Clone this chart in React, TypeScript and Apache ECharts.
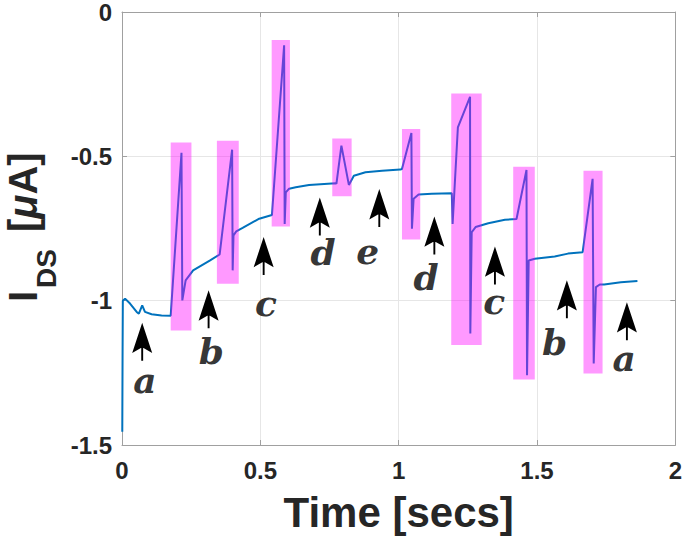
import React, { useEffect, useRef } from "react";
import * as echarts from "echarts";

// Axis ticks
const xTicks = [0, 0.5, 1, 1.5, 2];
const yTicks = [-1.5, -1, -0.5, 0];

// Measured trace: time [s] and I_DS [uA]
const timeSecs = [
  0.001, 0.002, 0.003, 0.011, 0.029, 0.053, 0.061, 0.073, 0.083, 0.107, 0.143, 0.176,
  0.215, 0.218, 0.23, 0.257, 0.317, 0.353,
  0.398, 0.4, 0.403, 0.413, 0.436, 0.496, 0.542,
  0.586, 0.588, 0.592, 0.604, 0.628, 0.676, 0.772,
  0.775, 0.793, 0.82, 0.838, 0.88, 0.94, 1.006,
  1.012, 1.046, 1.048, 1.054, 1.072, 1.12, 1.192,
  1.195, 1.214, 1.258, 1.259, 1.264, 1.278, 1.324, 1.384, 1.426,
  1.462, 1.464, 1.47, 1.492, 1.564, 1.612, 1.665,
  1.701, 1.705, 1.713, 1.727, 1.743, 1.803, 1.863,
];
const currentUA = [
  -1.454, -1.2, -1.0, -0.993, -1.01, -1.039, -1.045, -1.016, -1.039, -1.047, -1.051, -1.052,
  -0.488, -0.999, -0.93, -0.895, -0.861, -0.84,
  -0.477, -0.895, -0.774, -0.76, -0.748, -0.716, -0.703,
  -0.115, -0.734, -0.625, -0.612, -0.607, -0.599, -0.593,
  -0.595, -0.463, -0.599, -0.567, -0.555, -0.55, -0.546,
  -0.544, -0.419, -0.751, -0.647, -0.632, -0.63, -0.628,
  -0.734, -0.4, -0.294, -1.114, -0.763, -0.745, -0.732, -0.72, -0.717,
  -0.547, -1.258, -0.861, -0.855, -0.847, -0.837, -0.832,
  -0.578, -1.218, -0.953, -0.944, -0.944, -0.936, -0.932,
];

// Highlight boxes
const boxStart = [0.176, 0.343, 0.541, 0.76, 1.012, 1.19, 1.414, 1.668];
const boxEnd = [0.251, 0.422, 0.607, 0.83, 1.078, 1.3, 1.492, 1.737];
const boxTop = [-0.452, -0.446, -0.097, -0.438, -0.405, -0.282, -0.536, -0.55];
const boxBottom = [-1.103, -0.941, -0.743, -0.638, -0.788, -1.154, -1.273, -1.252];

// Arrow annotations
const arrowT = [0.073, 0.313, 0.512, 0.715, 0.93, 1.129, 1.348, 1.608, 1.825];
const arrowI = [-1.142, -1.03, -0.845, -0.708, -0.679, -0.774, -0.878, -0.995, -1.071];
const letterText = ["a", "b", "c", "d", "e", "d", "c", "b", "a"];
const letterT = [0.083, 0.323, 0.52, 0.727, 0.888, 1.099, 1.345, 1.564, 1.815];
const letterI = [-1.274, -1.175, -1.008, -0.832, -0.828, -0.918, -1.001, -1.143, -1.2];

const AXIS_COLOR = "#a0a0a0";
const TEXT_COLOR = "#262626";
const ARROW_PATH =
  "path://M10.5,0 L21,32 L10.5,26 L0,32 Z M9.5,26 L11.5,26 L11.5,40 L9.5,40 Z";

export default function App() {
  const ref = useRef<HTMLDivElement>(null);

  useEffect(() => {
    if (!ref.current) return;
    const chart = echarts.init(ref.current, undefined, { renderer: "svg" });

    const lineData = timeSecs.map((t, i) => [t, currentUA[i]]);
    const boxData = boxStart.map((s, i) => [s, boxEnd[i], boxTop[i], boxBottom[i]]);
    const arrowData = arrowT.map((t, i) => [t, arrowI[i]]);
    const letterData = letterT.map((t, i) => ({ value: [t, letterI[i]], name: letterText[i] }));

    const tickLabelStyle = {
      color: TEXT_COLOR,
      fontFamily: "Liberation Sans",
      fontWeight: "bold" as const,
      fontSize: 24,
    };

    const baseX = {
      type: "value" as const,
      min: xTicks[0],
      max: xTicks[xTicks.length - 1],
      interval: 0.5,
      axisLine: { show: true, onZero: false, lineStyle: { color: AXIS_COLOR, width: 1 } },
      axisTick: { show: true, inside: true, length: 5, lineStyle: { color: AXIS_COLOR } },
    };
    const baseY = {
      type: "value" as const,
      min: yTicks[0],
      max: yTicks[yTicks.length - 1],
      interval: 0.5,
      axisLine: { show: true, onZero: false, lineStyle: { color: AXIS_COLOR, width: 1 } },
      axisTick: { show: true, inside: true, length: 5, lineStyle: { color: AXIS_COLOR } },
    };

    chart.setOption({
      animation: false,
      grid: { left: 122, right: 8, top: 11, bottom: 94, containLabel: false },
      xAxis: [
        {
          ...baseX,
          position: "bottom",
          axisLabel: { ...tickLabelStyle, margin: 13 },
          splitLine: { show: true, lineStyle: { color: "#e6e6e6", width: 1 } },
          name: "Time [secs]",
          nameLocation: "middle",
          nameGap: 46,
          nameTextStyle: {
            color: TEXT_COLOR,
            fontFamily: "Liberation Sans",
            fontWeight: "bold",
            fontSize: 42,
          },
        },
        {
          ...baseX,
          position: "top",
          axisLabel: { show: false },
          splitLine: { show: false },
        },
      ],
      yAxis: [
        {
          ...baseY,
          position: "left",
          axisLabel: { ...tickLabelStyle, margin: 10 },
          splitLine: { show: true, lineStyle: { color: "#e6e6e6", width: 1 } },
        },
        {
          ...baseY,
          position: "right",
          axisLabel: { show: false },
          splitLine: { show: false },
        },
      ],
      series: [
        {
          type: "line",
          data: lineData,
          showSymbol: false,
          symbol: "none",
          z: 2,
          lineStyle: { color: "#0072BD", width: 2 },
          silent: true,
        },
        {
          type: "custom",
          z: 3,
          silent: true,
          data: boxData,
          encode: { x: [0, 1], y: [2, 3] },
          renderItem: (params: any, api: any) => {
            const p0 = api.coord([api.value(0), api.value(2)]);
            const p1 = api.coord([api.value(1), api.value(3)]);
            return {
              type: "rect",
              shape: { x: p0[0], y: p0[1], width: p1[0] - p0[0], height: p1[1] - p0[1] },
              style: { fill: "rgba(255,0,255,0.4)" },
            };
          },
        },
        {
          type: "scatter",
          z: 4,
          silent: true,
          data: arrowData,
          symbol: ARROW_PATH,
          symbolSize: [20, 38],
          itemStyle: { color: "#000", opacity: 1 },
        },
        {
          type: "scatter",
          z: 5,
          silent: true,
          data: letterData,
          symbolSize: 1,
          itemStyle: { color: "transparent" },
          label: {
            show: true,
            position: "inside",
            formatter: "{b}",
            color: "#000",
            fontFamily: "DejaVu Serif",
            fontStyle: "italic",
            fontWeight: "bold",
            fontSize: 36,
          },
        },
      ],
      graphic: [
        {
          type: "group",
          x: 0,
          y: 302,
          rotation: Math.PI / 2,
          children: [
            {
              type: "text",
              x: 0,
              y: 23,
              style: {
                text: "I",
                fill: TEXT_COLOR,
                fontFamily: "Liberation Sans",
                fontWeight: "bold",
                fontSize: 40,
                align: "left",
                verticalAlign: "middle",
              },
            },
            {
              type: "text",
              x: 14,
              y: 46,
              style: {
                text: "DS",
                fill: TEXT_COLOR,
                fontFamily: "Liberation Sans",
                fontWeight: "bold",
                fontSize: 28,
                align: "left",
                verticalAlign: "middle",
              },
            },
            {
              type: "text",
              x: 70,
              y: 23,
              style: {
                text: "{n|[}{m|μ}{n|A]}",
                fill: TEXT_COLOR,
                align: "left",
                verticalAlign: "middle",
                rich: {
                  n: {
                    fill: TEXT_COLOR,
                    fontFamily: "Liberation Sans",
                    fontWeight: "bold",
                    fontSize: 40,
                  },
                  m: {
                    fill: TEXT_COLOR,
                    fontFamily: "Liberation Sans",
                    fontStyle: "italic",
                    fontWeight: "bold",
                    fontSize: 40,
                  },
                },
              },
            },
          ],
        },
      ],
    });

    return () => chart.dispose();
  }, []);

  return (
    <div
      ref={ref}
      style={{ position: "absolute", left: 0, top: 0, width: 685, height: 539 }}
    />
  );
}
